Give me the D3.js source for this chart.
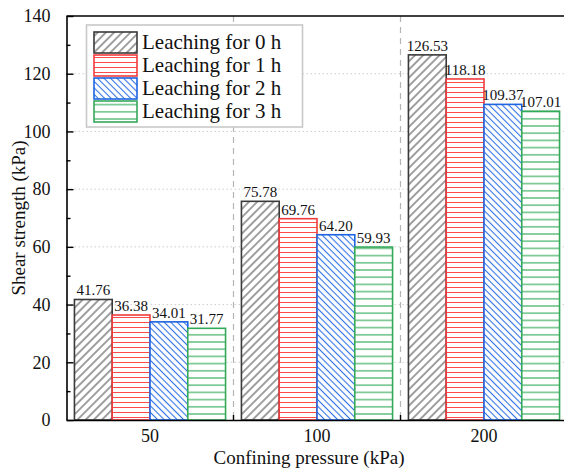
<!DOCTYPE html>
<html>
<head>
<meta charset="utf-8">
<script src="https://cdn.jsdelivr.net/npm/d3@7"></script>
<style>
  html, body { margin: 0; padding: 0; background: #fff; }
  svg { display: block; font-family: "Liberation Serif", "Times New Roman", serif; }
</style>
</head>
<body>
<svg id="chart" width="564" height="469"></svg>
<script>
// Shear strength by confining pressure and leaching time
const pressures = ["50", "100", "200"];
const seriesNames = ["Leaching for 0 h", "Leaching for 1 h", "Leaching for 2 h", "Leaching for 3 h"];
const leach0 = [41.76, 75.78, 126.53];
const leach1 = [36.38, 69.76, 118.18];
const leach2 = [34.01, 64.20, 109.37];
const leach3 = [31.77, 59.93, 107.01];
const yTicks = [0, 20, 40, 60, 80, 100, 120, 140];

const seriesValues = [leach0, leach1, leach2, leach3];
const strokeColors = ["#3a3a3a", "#f03c3c", "#1f64e0", "#35a95a"];
const hatchColors = ["#2a2a2a", "#ff4a4a", "#2d72e6", "#40b062"];

const svg = d3.select("#chart");
const margin = { left: 66.5, top: 16, right: 567.5, bottom: 420 };

const x0 = d3.scaleBand().domain(pressures).range([margin.left, margin.right]).paddingInner(0).paddingOuter(0);
const x1 = d3.scaleBand().domain(d3.range(4)).range([0, x0.bandwidth()]).paddingInner(0).paddingOuter(0.21);
const y = d3.scaleLinear().domain([0, 140]).range([margin.bottom, margin.top]);

// hatch fills
const defs = svg.append("defs");
function hatch(id, spacing, angle, color, width) {
  const p = defs.append("pattern")
    .attr("id", id)
    .attr("patternUnits", "userSpaceOnUse")
    .attr("width", 10).attr("height", spacing)
    .attr("patternTransform", `rotate(${angle})`);
  p.append("rect").attr("width", 10).attr("height", spacing).attr("fill", "#fff");
  p.append("line").attr("x1", 0).attr("x2", 10).attr("y1", spacing / 2).attr("y2", spacing / 2)
    .attr("stroke", color).attr("stroke-width", width);
}
hatch("h0", 5.8, -45, hatchColors[0], 0.9);
hatch("h1", 5, 0, hatchColors[1], 1);
hatch("h2", 4.6, 45, hatchColors[2], 1.1);
hatch("h3", 7.2, 0, hatchColors[3], 1.2);

// gridlines
svg.append("g").selectAll("line")
  .data(yTicks.filter(t => t > 0 && t < 140))
  .join("line")
  .attr("x1", margin.left).attr("x2", margin.right)
  .attr("y1", d => y(d)).attr("y2", d => y(d))
  .attr("stroke", "#cfcfcf").attr("stroke-width", 1).attr("stroke-dasharray", "1.5,2.5");

// group separators
svg.append("g").selectAll("line")
  .data(pressures.slice(1))
  .join("line")
  .attr("x1", d => x0(d)).attr("x2", d => x0(d))
  .attr("y1", margin.top).attr("y2", margin.bottom)
  .attr("stroke", "#b5b5b5").attr("stroke-width", 1.2).attr("stroke-dasharray", "6,5");

// bars
const groups = svg.append("g").selectAll("g")
  .data(pressures)
  .join("g")
  .attr("transform", d => `translate(${x0(d)},0)`);

groups.selectAll("rect")
  .data((p, gi) => seriesValues.map((vals, si) => ({ si, v: vals[gi] })))
  .join("rect")
  .attr("x", d => x1(d.si))
  .attr("width", x1.bandwidth())
  .attr("y", d => y(d.v))
  .attr("height", d => y(0) - y(d.v))
  .attr("fill", d => `url(#h${d.si})`)
  .attr("stroke", d => strokeColors[d.si])
  .attr("stroke-width", 1.6);

groups.selectAll("text")
  .data((p, gi) => seriesValues.map((vals, si) => ({ si, v: vals[gi] })))
  .join("text")
  .attr("x", d => x1(d.si) + x1.bandwidth() / 2)
  .attr("y", d => y(d.v) - 4)
  .attr("text-anchor", "middle")
  .attr("font-size", 15)
  .attr("fill", "#111")
  .text(d => d.v.toFixed(2));

// frame
svg.append("line").attr("x1", margin.left).attr("x2", margin.right)
  .attr("y1", margin.top).attr("y2", margin.top).attr("stroke", "#000").attr("stroke-width", 1.6);
svg.append("line").attr("x1", margin.right).attr("x2", margin.right)
  .attr("y1", margin.top).attr("y2", margin.bottom).attr("stroke", "#000").attr("stroke-width", 1.6);

// y axis
const yAxis = svg.append("g").attr("transform", `translate(${margin.left},0)`)
  .call(d3.axisLeft(y).tickValues(yTicks).tickSizeInner(-7).tickSizeOuter(0).tickPadding(16).tickFormat(d3.format("d")));
yAxis.select(".domain").attr("stroke-width", 1.6);
yAxis.selectAll(".tick line").attr("stroke-width", 1.4);
yAxis.selectAll("text").attr("font-size", 18).attr("font-family", "Liberation Serif").attr("fill", "#111");
svg.append("g").attr("transform", `translate(${margin.left},0)`)
  .call(d3.axisLeft(y).tickValues(d3.range(10, 140, 20)).tickSizeInner(-4).tickSizeOuter(0).tickFormat(""))
  .call(g => g.select(".domain").remove())
  .selectAll("line").attr("stroke-width", 1.4);

// x axis
const xAxis = svg.append("g").attr("transform", `translate(0,${margin.bottom})`)
  .call(d3.axisBottom(x0).tickSize(0).tickPadding(9));
xAxis.select(".domain").attr("stroke-width", 1.6);
xAxis.selectAll("text").attr("font-size", 18).attr("font-family", "Liberation Serif").attr("fill", "#111");
svg.append("g").selectAll("line")
  .data(pressures.slice(1))
  .join("line")
  .attr("x1", d => x0(d)).attr("x2", d => x0(d))
  .attr("y1", margin.bottom).attr("y2", margin.bottom - 5)
  .attr("stroke", "#000").attr("stroke-width", 1.4);

// axis titles
svg.append("text").attr("x", 309).attr("y", 464).attr("text-anchor", "middle")
  .attr("font-size", 19).attr("fill", "#111").text("Confining pressure (kPa)");
svg.append("text").attr("transform", `translate(25,${(margin.top + margin.bottom) / 2}) rotate(-90)`)
  .attr("text-anchor", "middle").attr("font-size", 19).attr("fill", "#111").text("Shear strength (kPa)");

// legend
const legend = svg.append("g");
legend.append("rect").attr("x", 86.5).attr("y", 25).attr("width", 216).attr("height", 102)
  .attr("fill", "#fff").attr("stroke", "#c8c8c8").attr("stroke-width", 1.6);
const items = legend.selectAll("g").data(seriesNames).join("g")
  .attr("transform", (d, i) => `translate(94,${32 + i * 23})`);
items.append("rect").attr("width", 43).attr("height", 21)
  .attr("fill", (d, i) => `url(#h${i})`)
  .attr("stroke", (d, i) => strokeColors[i]).attr("stroke-width", 1.6);
items.append("text").attr("x", 48).attr("y", 17).attr("font-size", 21).attr("fill", "#111").text(d => d);
</script>
</body>
</html>
